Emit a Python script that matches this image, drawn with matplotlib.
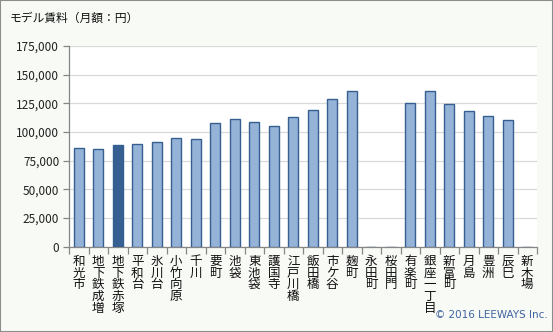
import matplotlib.pyplot as plt
from matplotlib.ticker import FuncFormatter, FixedLocator

plt.rcParams['font.family'] = ['Noto Sans CJK JP', 'DejaVu Sans']

# 駅ごとのモデル賃料（月額・円）
stations = ['和光市', '地下鉄成増', '地下鉄赤塚', '平和台', '氷川台', '小竹向原', '千川',
            '要町', '池袋', '東池袋', '護国寺', '江戸川橋', '飯田橋', '市ケ谷', '麹町',
            '永田町', '桜田門', '有楽町', '銀座一丁目', '新富町', '月島', '豊洲', '辰巳', '新木場']
rents = [86000, 85200, 88600, 89500, 91300, 94800, 94000,
         108000, 111500, 108800, 105300, 113200, 119300, 129000, 136000,
         0, 0, 125500, 136000, 124600, 118500, 114100, 110600, 0]
highlight = '地下鉄赤塚'
yticks = [0, 25000, 50000, 75000, 100000, 125000, 150000, 175000]

bg = '#F8FAF5'
fig = plt.figure(figsize=(5.53, 3.32), dpi=100, facecolor=bg)
ax = fig.add_axes([69 / 553, 1 - 246.7 / 332, (537 - 69) / 553, (246.7 - 46) / 332])
ax.set_facecolor('white')

colors = ['#376092' if s == highlight else '#95B3D7' for s in stations]
x = list(range(len(stations)))
ax.bar(x, rents, width=0.52, color=colors, edgecolor='#365F91', linewidth=1.0, zorder=3)

ax.set_xlim(-0.5, len(stations) - 0.5)
ax.set_ylim(0, 175000)
ax.set_yticks(yticks)
ax.yaxis.set_major_formatter(FuncFormatter(lambda v, p: f'{int(v):,}'))
ax.grid(axis='y', color='#D9D9D9', linewidth=0.9, zorder=0)

for side in ['top', 'right']:
    ax.spines[side].set_visible(False)
for side in ['left', 'bottom']:
    ax.spines[side].set_color('#868686')
    ax.spines[side].set_linewidth(0.9)

ax.tick_params(axis='y', length=4, width=0.9, color='#868686', labelsize=8.5, labelcolor='#222222', pad=3)
ax.set_xticks([])
ax.xaxis.set_minor_locator(FixedLocator([i - 0.5 for i in range(len(stations) + 1)]))
ax.tick_params(axis='x', which='minor', length=5, width=0.9, color='#868686')

# 縦書きの駅名ラベル
for i, name in enumerate(stations):
    ax.text(i, -0.04, '\n'.join(name), transform=ax.get_xaxis_transform(),
            ha='center', va='top', fontsize=9, linespacing=0.88, color='#111111')

fig.text(10 / 553, 1 - 18 / 332, 'モデル賃料（月額：円）', fontsize=8.5, ha='left', va='center',
         color='#111111')
fig.text(548 / 553, 1 - 315 / 332, '© 2016 LEEWAYS Inc.', fontsize=7.5, ha='right', va='center',
         color='#3F63A0', family=['DejaVu Sans'])

# 外枠
fig.patches.append(plt.Rectangle((0, 0), 1, 1, transform=fig.transFigure, fill=False,
                                 edgecolor='#8C8C8C', linewidth=1.5))

fig.savefig('out.png', dpi=100, facecolor=bg)
